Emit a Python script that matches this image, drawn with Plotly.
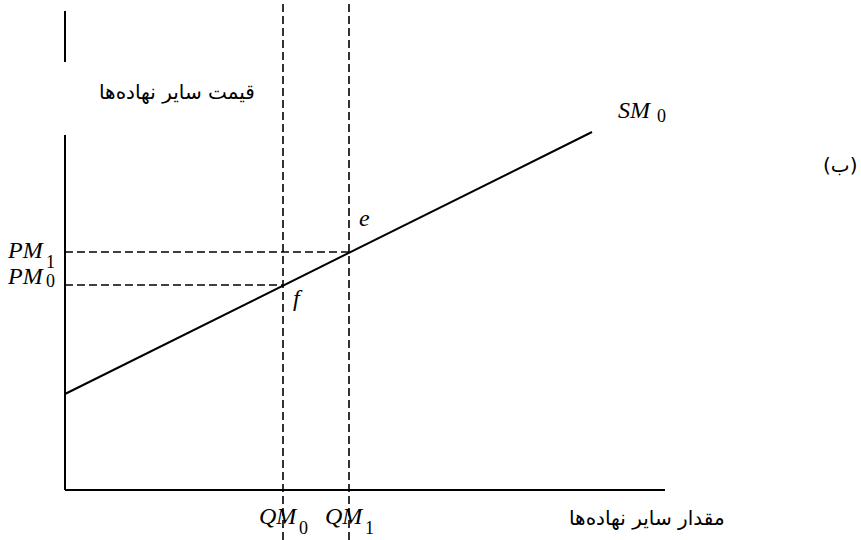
import plotly.graph_objects as go

# supply curve SM0 (quantity, price), axis units
supply_q = [0.0, 52.7]
supply_p = [9.6, 35.8]

# equilibrium points f (0) and e (1)
qm_values = [21.8, 28.4]
pm_values = [20.5, 23.8]
subscripts = ["0", "1"]
point_labels = ["f", "e"]

# axis extents (y axis is broken near the top)
x_axis_q = [0.0, 60.0]
y_axis_low = [0.0, 35.5]
y_axis_high = [42.8, 47.9]

X_RANGE = [-6.5, 79.6]
Y_RANGE = [-5.0, 49.0]

SERIF = "Liberation Serif"
PERSIAN = "DejaVu Sans"

fig = go.Figure()

solid = {"color": "black", "width": 2}
dashed = {"color": "black", "width": 1.6, "dash": "8px,4px"}

fig.add_trace(go.Scatter(x=x_axis_q, y=[0, 0], mode="lines", line=solid))
fig.add_trace(go.Scatter(x=[0, 0], y=y_axis_low, mode="lines", line=solid))
fig.add_trace(go.Scatter(x=[0, 0], y=y_axis_high, mode="lines", line=solid))

for q, p in zip(qm_values, pm_values):
    fig.add_trace(go.Scatter(x=[q, q], y=Y_RANGE, mode="lines", line=dashed))
    fig.add_trace(go.Scatter(x=[0, q], y=[p, p], mode="lines", line=dashed))

fig.add_trace(go.Scatter(x=supply_q, y=supply_p, mode="lines", line=solid))

main_font = {"family": SERIF, "size": 24, "color": "black"}
sub_font = {"family": SERIF, "size": 18, "color": "black"}
persian_font = {"family": PERSIAN, "size": 20, "color": "black"}


def label(x, y, text, font, anchor="center"):
    fig.add_annotation(x=x, y=y, text=text, xanchor=anchor, yanchor="middle",
                       showarrow=False, font=font, borderpad=0)


# price labels on the vertical axis
pm_main_y = [21.45, 24.05]
pm_sub_y = [20.95, 22.85]
for sub, my, sy in zip(subscripts, pm_main_y, pm_sub_y):
    label(-1.95, my, "<i>PM</i>", main_font, "right")
    label(-0.95, sy, sub, sub_font, "right")

# quantity labels under the horizontal axis
for sub, q in zip(subscripts, qm_values):
    label(q - 2.55, -2.55, "<i>QM</i>", main_font, "left")
    label(q + 1.45, -3.75, sub, sub_font, "left")

# supply curve label
label(55.2, 38.0, "<i>SM</i>", main_font, "left")
label(59.1, 37.4, "0", sub_font, "left")

# equilibrium points
label(qm_values[0] + 1.5, pm_values[0] - 1.3, f"<i>{point_labels[0]}</i>", main_font)
label(qm_values[1] + 1.5, pm_values[1] + 3.4, f"<i>{point_labels[1]}</i>", main_font)

label(11.2, 39.8, "قیمت سایر نهاده‌ها", persian_font)
label(58.2, -2.8, "مقدار سایر نهاده‌ها", persian_font)
label(77.5, 32.5, "(ب)", persian_font)

fig.update_layout(
    width=861,
    height=540,
    margin={"l": 0, "r": 0, "t": 0, "b": 0},
    paper_bgcolor="white",
    plot_bgcolor="white",
    showlegend=False,
)
fig.update_xaxes(range=X_RANGE, visible=False)
fig.update_yaxes(range=Y_RANGE, visible=False)

fig.write_html("out.html", config={"displayModeBar": False},
               post_script="document.body.style.margin = '0';")
